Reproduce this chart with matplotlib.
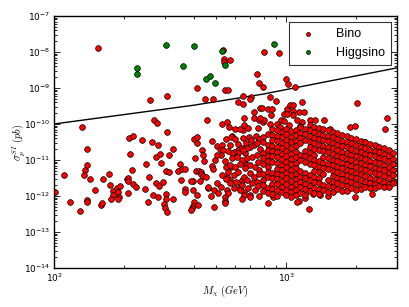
import matplotlib
matplotlib.use("Agg")
import matplotlib.pyplot as plt
import numpy as np

# values are log10(M / GeV), log10(sigma / pb)

higgsino = [(2.481, -7.80), (2.603, -7.84), (2.358, -8.45), (2.356, -8.62),
            (2.555, -8.39), (2.671, -8.66), (2.655, -8.75), (2.691, -8.87),
            (2.723, -7.98), (2.737, -8.37), (2.948, -7.77)]

bino_sparse = [
    # upper points
    (2.188, -7.90), (2.727, -7.95), (2.731, -8.19), (2.730, -8.29), (2.757, -8.21),
    (2.904, -8.01), (2.967, -8.03), (2.875, -8.60), (2.881, -8.87), (2.901, -8.96),
    (2.997, -8.74), (3.007, -8.88), (3.036, -8.96), (2.616, -9.00), (2.737, -9.05),
    (2.747, -9.07), (2.648, -9.30), (2.685, -9.32), (2.813, -9.22), (2.848, -9.25),
    (2.842, -9.31), (2.930, -9.24), (2.955, -9.36), (2.790, -9.39), (2.812, -9.45),
    (2.414, -9.33), (2.487, -9.23), (3.066, -9.39), (3.306, -9.43), (3.434, -9.82),
    (2.430, -9.88), (2.445, -9.96), (2.659, -9.90), (2.723, -10.00), (2.746, -9.94),
    (2.818, -9.84), (2.861, -9.66), (2.887, -9.56), (2.861, -9.84), (2.881, -9.88),
    (2.900, -9.94), (2.922, -9.59), (2.938, -9.59), (2.935, -9.75), (2.928, -9.99),
    (2.960, -9.99), (2.976, -9.89), (2.991, -9.71), (3.001, -9.59), (3.016, -9.48),
    (3.029, -9.47), (3.029, -9.63), (3.001, -9.73), (3.030, -9.76), (2.990, -9.92),
    (3.053, -9.66), (3.078, -9.68), (3.103, -9.89), (3.125, -9.89), (3.161, -9.89),
    (3.068, -9.94), (3.046, -9.89), (3.187, -10.14), (3.274, -10.08), (3.294, -10.06),
    (3.424, -10.13), (3.339, -10.49), (3.384, -10.60), (3.294, -12.04), (3.369, -11.95),
    (2.895, -9.56), (2.902, -9.89), (2.888, -9.84), (3.012, -10.02), (2.975, -10.08),
    (3.058, -10.05),
    # left part
    (2.121, -10.09), (2.141, -10.69), (2.144, -11.13), (2.134, -11.29), (2.128, -11.42),
    (2.154, -11.54), (2.043, -11.42), (2.003, -11.88), (2.069, -12.17), (2.112, -12.42),
    (2.141, -12.11), (2.143, -12.16), (2.178, -11.84), (2.201, -12.24), (2.207, -12.19),
    (2.213, -11.52), (2.236, -11.39), (2.243, -11.69), (2.253, -11.85), (2.256, -11.96),
    (2.244, -12.07), (2.270, -11.79), (2.277, -11.90), (2.284, -11.71), (2.280, -12.02),
    (2.276, -12.09), (2.315, -11.53), (2.320, -11.50), (2.320, -11.58), (2.320, -11.93),
    (2.322, -10.39), (2.339, -10.34), (2.329, -10.82), (2.335, -11.28), (2.342, -11.67),
    (2.352, -11.76), (2.381, -10.44), (2.397, -11.12), (2.392, -11.81), (2.407, -11.48),
    (2.404, -12.17), (2.422, -10.49), (2.447, -10.58), (2.440, -10.93), (2.457, -10.84),
    (2.425, -11.98), (2.447, -12.02), (2.440, -11.65), (2.450, -11.71), (2.468, -11.60),
    (2.461, -11.09), (2.486, -10.23), (2.484, -11.30), (2.494, -11.32), (2.496, -10.87),
    (2.512, -10.70), (2.481, -11.94), (2.481, -12.07), (2.475, -12.23), (2.478, -12.34),
    (2.488, -12.44), (2.514, -12.07), (2.533, -11.31), (2.543, -11.12), (2.550, -11.25),
    (2.562, -11.25), (2.547, -11.56), (2.562, -11.81), (2.565, -11.88),
    # middle part
    (2.602, -10.43), (2.616, -10.35), (2.616, -10.52), (2.608, -10.95), (2.638, -10.72),
    (2.641, -10.86), (2.645, -11.02), (2.680, -10.48), (2.612, -11.30), (2.625, -11.30),
    (2.632, -11.34), (2.634, -11.40), (2.643, -11.45), (2.598, -11.58), (2.588, -11.59),
    (2.630, -11.59), (2.603, -12.18), (2.598, -12.28), (2.593, -12.34), (2.588, -12.39),
    (2.618, -12.26), (2.598, -11.83), (2.655, -11.48), (2.664, -11.78), (2.690, -11.82),
    (2.688, -12.30), (2.700, -11.65), (2.680, -11.16), (2.684, -11.26), (2.691, -11.00),
    (2.701, -10.60), (2.716, -10.70), (2.724, -10.57), (2.754, -10.09), (2.779, -10.13),
    (2.813, -10.17), (2.740, -10.41), (2.768, -10.33), (2.737, -11.02), (2.740, -11.19),
    (2.764, -11.19), (2.744, -11.46), (2.759, -11.56), (2.737, -12.02), (2.737, -12.13),
    (2.816, -10.03), (2.790, -10.56), (2.794, -10.72), (2.809, -10.68), (2.823, -10.81),
    (2.828, -10.54), (2.816, -11.05), (2.830, -11.14), (2.809, -11.56), (2.816, -11.88),
    (2.820, -11.97), (2.810, -12.09), (2.802, -11.76), (2.802, -10.13), (2.836, -10.12),
    (2.764, -10.35), (2.781, -10.43), (2.813, -10.40), (2.839, -10.35), (2.850, -10.44),
    (2.868, -10.33), (2.881, -10.43), (2.859, -10.58), (2.876, -10.54), (2.845, -10.63),
    (2.830, -10.68), (2.812, -10.72), (2.790, -10.81), (2.773, -10.77), (2.756, -10.58),
    (2.766, -10.80), (2.747, -10.74), (2.727, -10.72), (2.718, -10.86), (2.701, -10.86),
    (2.766, -10.95), (2.787, -10.91), (2.809, -11.00), (2.830, -10.95), (2.852, -10.91),
    (2.874, -10.86), (2.759, -11.14), (2.780, -11.19), (2.802, -11.11), (2.823, -11.23),
    (2.845, -11.14), (2.866, -11.19), (2.747, -11.32), (2.773, -11.42), (2.794, -11.32),
    (2.816, -11.46), (2.842, -11.37), (2.862, -11.48), (2.881, -11.28), (2.723, -11.42),
    (2.741, -11.54), (2.759, -11.65), (2.784, -11.60), (2.809, -11.69), (2.830, -11.56),
    (2.852, -11.65), (2.874, -11.60), (2.744, -11.83), (2.773, -11.79), (2.802, -11.83),
    (2.837, -11.79), (2.866, -11.83), (2.737, -12.19), (2.842, -11.97), (2.845, -12.02),
    (2.921, -12.19), (2.943, -12.02), (3.053, -12.13), (3.046, -12.16), (3.098, -12.36),
    (3.082, -12.06), (3.180, -12.00), (3.147, -11.97), (3.115, -11.94), (2.615, -11.97),
    (2.665, -11.76), (2.677, -12.00), (2.706, -11.93), (2.751, -11.91), (2.720, -11.76),
    (2.880, -10.10), (2.885, -10.70), (2.877, -11.05), (2.883, -11.40), (2.878, -11.72),
    (2.882, -12.00),
]

# dense cloud at high mass, one column of log10(sigma) per log10(M)
bino_cloud = {
    2.90: [-10.35, -10.50, -10.80, -10.95, -11.12, -11.40, -11.56, -11.70, -11.85],
    2.92: [-10.28, -10.58, -10.73, -10.88, -11.03, -11.19, -11.33, -11.48, -11.78, -11.92],
    2.94: [-10.15, -10.30, -10.45, -10.60, -10.76, -10.90, -11.05, -11.35, -11.50, -11.66, -11.80, -11.95],
    2.96: [-10.18, -10.33, -10.48, -10.63, -10.78, -10.93, -11.08, -11.24, -11.38, -11.53, -11.68, -11.84, -12.00],
    2.98: [-10.22, -10.37, -10.52, -10.67, -10.82, -10.97, -11.13, -11.28, -11.43, -11.58, -11.74, -11.90],
    3.00: [-10.13, -10.28, -10.44, -10.59, -10.75, -10.90, -11.05, -11.20, -11.36, -11.51, -11.66, -11.82, -11.97],
    3.02: [-10.20, -10.35, -10.50, -10.66, -10.82, -10.97, -11.12, -11.28, -11.43, -11.58, -11.74, -11.89, -12.02],
    3.04: [-10.16, -10.31, -10.46, -10.62, -10.77, -10.92, -11.07, -11.22, -11.38, -11.53, -11.68, -11.83, -11.97],
    3.06: [-10.09, -10.24, -10.39, -10.54, -10.85, -11.00, -11.31, -11.46, -11.61, -11.76, -11.92],
    3.08: [-10.14, -10.29, -10.44, -10.75, -10.90, -11.05, -11.36, -11.51, -11.66, -11.81, -11.96],
    3.10: [-10.03, -10.18, -10.33, -10.49, -10.64, -10.80, -10.95, -11.10, -11.41, -11.56, -11.72, -11.87],
    3.12: [-10.08, -10.23, -10.39, -10.54, -10.70, -10.85, -11.00, -11.15, -11.31, -11.46, -11.62, -11.77, -11.93],
    3.14: [-10.11, -10.27, -10.42, -10.58, -10.73, -11.04, -11.19, -11.34, -11.50, -11.65, -11.80, -11.94],
    3.16: [-10.14, -10.30, -10.45, -10.61, -10.76, -10.92, -11.07, -11.22, -11.38, -11.69, -11.84],
    3.18: [-10.17, -10.33, -10.48, -10.64, -10.79, -10.94, -11.10, -11.25, -11.56, -11.72, -11.88],
    3.20: [-10.22, -10.37, -10.53, -10.68, -10.84, -10.99, -11.14, -11.30, -11.45, -11.61, -11.76, -11.90],
    3.22: [-10.26, -10.41, -10.57, -10.72, -10.88, -11.03, -11.19, -11.34, -11.50, -11.65, -11.81],
    3.24: [-10.31, -10.46, -10.62, -10.77, -10.93, -11.08, -11.23, -11.39, -11.54, -11.70, -11.86],
    3.26: [-10.34, -10.50, -10.65, -10.81, -10.96, -11.12, -11.27, -11.42, -11.58, -11.73, -11.85],
    3.28: [-10.39, -10.54, -10.70, -10.85, -11.01, -11.16, -11.31, -11.47, -11.62, -11.78],
    3.30: [-10.43, -10.59, -10.74, -10.90, -11.05, -11.20, -11.36, -11.51, -11.67, -11.82],
    3.32: [-10.48, -10.63, -10.79, -10.94, -11.09, -11.25, -11.40, -11.56, -11.71, -11.80],
    3.34: [-10.51, -10.67, -10.82, -10.98, -11.13, -11.29, -11.44, -11.60, -11.75],
    3.36: [-10.56, -10.71, -10.87, -11.02, -11.18, -11.33, -11.49, -11.64, -11.78],
    3.38: [-10.59, -10.74, -10.90, -11.05, -11.21, -11.36, -11.52, -11.67, -11.77],
    3.40: [-10.63, -10.78, -10.94, -11.09, -11.25, -11.40, -11.56, -11.71],
    3.42: [-10.67, -10.83, -10.98, -11.14, -11.29, -11.45, -11.60, -11.75],
    3.44: [-10.73, -10.88, -11.04, -11.19, -11.35, -11.50, -11.66, -11.74],
    3.46: [-10.81, -10.96, -11.12, -11.27, -11.43, -11.58, -11.65],
}

# exclusion curve
limit_lx = [2.0, 2.3, 2.6, 2.9, 3.2, 3.478]
limit_ly = [-10.0, -9.74, -9.48, -9.17, -8.79, -8.44]

# collect bino points
b_lx = [p[0] for p in bino_sparse]
b_ly = [p[1] for p in bino_sparse]
for lx, col in bino_cloud.items():
    for ly in col:
        b_lx.append(lx)
        b_ly.append(ly)
b_m = 10 ** np.array(b_lx)
b_s = 10 ** np.array(b_ly)
h_m = 10 ** np.array([p[0] for p in higgsino])
h_s = 10 ** np.array([p[1] for p in higgsino])

plt.rcParams['mathtext.fontset'] = 'cm'

fig = plt.figure(figsize=(4.09, 3.07), dpi=100)
ax = fig.add_axes([0.132, 0.127, 0.839, 0.821])

ax.plot(10 ** np.array(limit_lx), 10 ** np.array(limit_ly), color='black', lw=1.0, zorder=1)
ax.scatter(b_m, b_s, s=17, c='red', edgecolors='black', linewidths=0.5, label='Bino', zorder=2)
ax.scatter(h_m, h_s, s=17, c='green', edgecolors='black', linewidths=0.5, label='Higgsino', zorder=3)

ax.set_xscale('log')
ax.set_yscale('log')
ax.set_xlim(100, 3000)
ax.set_ylim(1e-14, 1e-7)

ax.tick_params(which='both', direction='in', top=True, right=True, labelsize=6.5, pad=2.5)
ax.tick_params(which='major', length=4, width=0.6)
ax.tick_params(which='minor', length=2, width=0.6)
for sp in ax.spines.values():
    sp.set_linewidth(1.0)

ax.set_xlabel(r'$M_{\chi}\ (GeV)$', fontsize=7.5)
ax.set_ylabel(r'$\sigma_p^{SI}\ (pb)$', fontsize=7.5)
ax.xaxis.set_label_coords(0.5, -0.063)
ax.yaxis.set_label_coords(-0.08, 0.5)

leg = ax.legend(loc='upper right', scatterpoints=1, markerscale=0.7, fancybox=False,
                prop={'family': 'Liberation Sans', 'size': 9}, borderaxespad=0.5,
                labelspacing=0.5, handletextpad=1.2, borderpad=0.5)
leg.get_frame().set_edgecolor('black')
leg.get_frame().set_linewidth(0.8)

fig.savefig('out.png', dpi=100)
